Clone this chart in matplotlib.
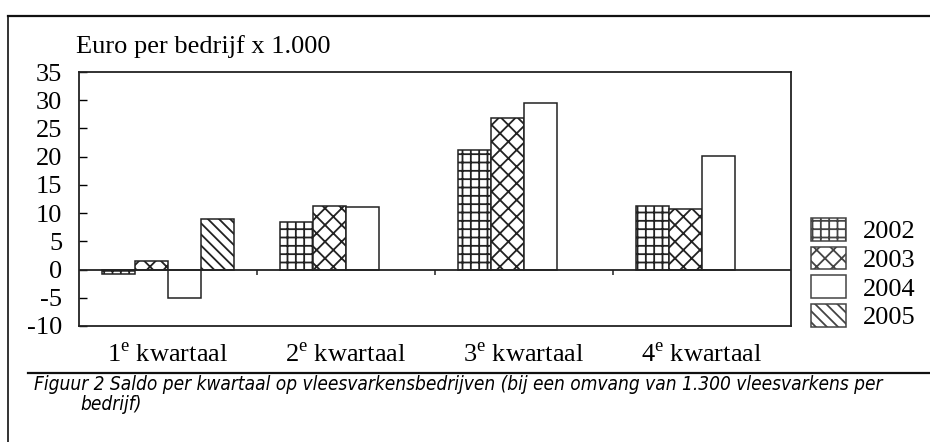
import numpy as np
import matplotlib
matplotlib.use('Agg')
import matplotlib.pyplot as plt
from matplotlib.lines import Line2D

plt.rcParams['font.family'] = ['Liberation Serif', 'DejaVu Serif']
plt.rcParams['mathtext.fontset'] = 'custom'
plt.rcParams['mathtext.rm'] = 'Liberation Serif'
plt.rcParams['axes.unicode_minus'] = False
plt.rcParams['hatch.linewidth'] = 1.3
plt.rcParams['hatch.color'] = '#3c4646'

# data (euro per bedrijf x 1.000)
quarters = ['1', '2', '3', '4']
years = ['2002', '2003', '2004', '2005']
v2002 = [-0.7, 8.5, 21.1, 11.2]
v2003 = [1.5, 11.3, 26.8, 10.7]
v2004 = [-5.0, 11.0, 29.5, 20.2]
v2005 = [8.9, np.nan, np.nan, np.nan]
hatches = ['++', 'xx', '', '\\\\\\']

series = [v2002, v2003, v2004, v2005]

fig = plt.figure(figsize=(9.3, 4.42), dpi=100)
ax = fig.add_axes([79 / 930, 1 - 326 / 442, (791 - 79) / 930, (326 - 72) / 442])

x = np.arange(len(quarters))
w = 0.185
for i, (vals, yr, h) in enumerate(zip(series, years, hatches)):
    ax.bar(x + (i - 1.5) * w, vals, w, facecolor='white', edgecolor='#222222',
           linewidth=1.1, hatch=h, label=yr)

ax.axhline(0, color='#222222', lw=1.3)
# small ticks on the zero line between the quarters
bounds = x[:-1] + 0.5
ax.vlines(bounds, 0, -0.9, color='#222222', lw=1.1)

ax.set_xlim(-0.5, len(quarters) - 0.5)
ax.set_ylim(-10, 35)
ax.set_yticks(np.arange(-10, 36, 5))
ax.tick_params(axis='y', direction='in', length=5.5, width=1, pad=12, labelsize=19)
ax.set_xticks([])
for s in ax.spines.values():
    s.set_linewidth(1.3)
    s.set_color('#222222')

for xi, q in zip(x, quarters):
    ax.text(xi, -0.115, q + r'$^{\mathrm{e}}$ kwartaal', transform=ax.get_xaxis_transform(),
            ha='center', va='center', fontsize=19)

fig.text(76 / 930, 1 - 53 / 442, 'Euro per bedrijf x 1.000', fontsize=19, va='baseline')

leg = fig.legend(loc='upper left', bbox_to_anchor=(811 / 930, 1 - 218 / 442),
                 frameon=False, fontsize=19, handlelength=1.33, handleheight=0.95,
                 labelspacing=0.12, handletextpad=0.65, borderpad=0, borderaxespad=0)
for p in leg.get_patches():
    p.set_edgecolor('#444444')

# page frame and caption separator
fig.add_artist(Line2D([8 / 930, 8 / 930], [0, 1 - 16 / 442], color='#111111', lw=1.2))
fig.add_artist(Line2D([8 / 930, 1], [1 - 16 / 442, 1 - 16 / 442], color='#111111', lw=1.6))
fig.add_artist(Line2D([28 / 930, 1], [1 - 373 / 442, 1 - 373 / 442], color='#111111', lw=1.6))

cap_kw = dict(family='DejaVu Sans', fontstretch='condensed', style='italic',
              fontsize=13.7, va='baseline')
fig.text(34 / 930, 1 - 390 / 442,
         'Figuur 2 Saldo per kwartaal op vleesvarkensbedrijven (bij een omvang van 1.300 vleesvarkens per',
         **cap_kw)
fig.text(80 / 930, 1 - 410 / 442, 'bedrijf)', **cap_kw)

fig.savefig('out.png', dpi=100)
